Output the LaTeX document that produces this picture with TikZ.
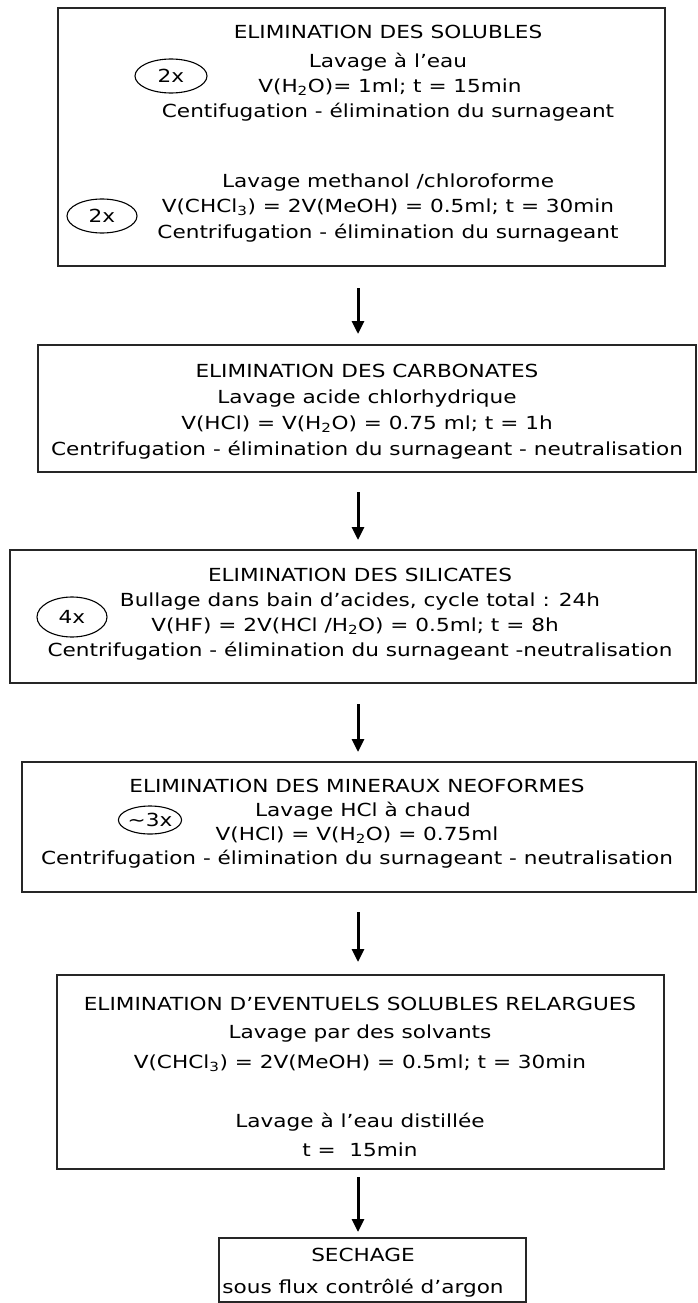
\documentclass[tikz,border=0pt]{standalone}
\usepackage{fontspec}
\newfontfamily\df[FakeStretch=1.2]{DejaVu Sans}
\usetikzlibrary{arrows.meta,shapes.geometric}
\newcommand\tl[4]{\node[txt] (#1) at (#2,#3+6.5) {#4};}
\newcommand\bx[5]{\node[box, minimum width=#4-#2, minimum height=#5-#3] (#1) at ({(#2+#4)/2},{(#3+#5)/2}) {};}
\begin{document}
\begin{tikzpicture}[x=1pt,y=-1pt,
  box/.style={draw=black!85, line width=1.8pt, inner sep=0pt, outer sep=0pt},
  txt/.style={font=\df\fontsize{18}{22}\selectfont, inner sep=0pt, anchor=base},
  ell/.style={ellipse, draw=black, line width=1.1pt, inner sep=0pt, font=\df\fontsize{18}{22}\selectfont},
  arr/.style={line width=3pt, -{Triangle[length=13pt,width=12pt]}}]
\useasboundingbox (0,0) rectangle (697,1303);

% ---------- box 1
\bx{b1}{58}{8}{665}{266}
\tl{t11}{388}{32}{ELIMINATION DES SOLUBLES}
\tl{t12}{388}{61}{Lavage à l’eau}
\tl{t13}{390}{86}{V(H\textsubscript{2}O)= 1ml; t = 15min}
\tl{t14}{388}{111}{Centifugation - élimination du surnageant}
\tl{t15}{388}{181}{Lavage methanol /chloroforme}
\tl{t16}{388}{206}{V(CHCl\textsubscript{3}) = 2V(MeOH) = 0.5ml; t = 30min}
\tl{t17}{388}{232}{Centrifugation - élimination du surnageant}
\node[ell, minimum width=72pt, minimum height=34pt] (e1) at (171,76) {2x};
\node[ell, minimum width=70pt, minimum height=34pt] (e2) at (102,216) {2x};

% ---------- box 2
\bx{b2}{38}{345}{696}{472}
\tl{t21}{367}{371}{ELIMINATION DES CARBONATES}
\tl{t22}{367}{397}{Lavage acide chlorhydrique}
\tl{t23}{367}{423}{V(HCl) = V(H\textsubscript{2}O) = 0.75 ml; t = 1h}
\tl{t24}{367}{449}{Centrifugation - élimination du surnageant - neutralisation}

% ---------- box 3
\bx{b3}{10}{550}{696}{683}
\tl{t31}{360}{575}{ELIMINATION DES SILICATES}
\tl{t32}{360}{600}{Bullage dans bain d’acides, cycle total : 24h}
\tl{t33}{355}{625}{V(HF) = 2V(HCl /H\textsubscript{2}O) = 0.5ml; t = 8h}
\tl{t34}{360}{650}{Centrifugation - élimination du surnageant -neutralisation}
\node[ell, minimum width=70pt, minimum height=40pt] (e3) at (72,617) {4x};

% ---------- box 4
\bx{b4}{22}{762}{696}{892}
\tl{t41}{357}{786}{ELIMINATION DES MINERAUX NEOFORMES}
\tl{t42}{363}{810}{Lavage HCl à chaud}
\tl{t43}{357}{834}{V(HCl) = V(H\textsubscript{2}O) = 0.75ml}
\tl{t44}{357}{858}{Centrifugation - élimination du surnageant - neutralisation}
\node[ell, minimum width=58pt, minimum height=28pt] (e4) at (150,820) {\textasciitilde 3x};

% ---------- box 5
\bx{b5}{57}{975}{664}{1169}
\tl{t51}{360}{1004}{ELIMINATION D’EVENTUELS SOLUBLES RELARGUES}
\tl{t52}{360}{1032}{Lavage par des solvants}
\tl{t53}{360}{1062}{V(CHCl\textsubscript{3}) = 2V(MeOH) = 0.5ml; t = 30min}
\tl{t54}{360}{1121}{Lavage à l’eau distillée}
\tl{t55}{360}{1150}{t =\ \ 15min}

% ---------- box 6
\bx{b6}{219}{1238}{526}{1302}
\tl{t61}{363}{1255}{SECHAGE}
\tl{t62}{363}{1287}{sous flux contrôlé d’argon}

% ---------- arrows
\coordinate (a1s) at (358,288);  \coordinate (a1e) at (358,334);
\coordinate (a2s) at (358,492);  \coordinate (a2e) at (358,540);
\coordinate (a3s) at (358,704);  \coordinate (a3e) at (358,752);
\coordinate (a4s) at (358,912);  \coordinate (a4e) at (358,962);
\coordinate (a5s) at (358,1177); \coordinate (a5e) at (358,1232);
\draw[arr] (a1s) -- (a1e);
\draw[arr] (a2s) -- (a2e);
\draw[arr] (a3s) -- (a3e);
\draw[arr] (a4s) -- (a4e);
\draw[arr] (a5s) -- (a5e);
\end{tikzpicture}
\end{document}
